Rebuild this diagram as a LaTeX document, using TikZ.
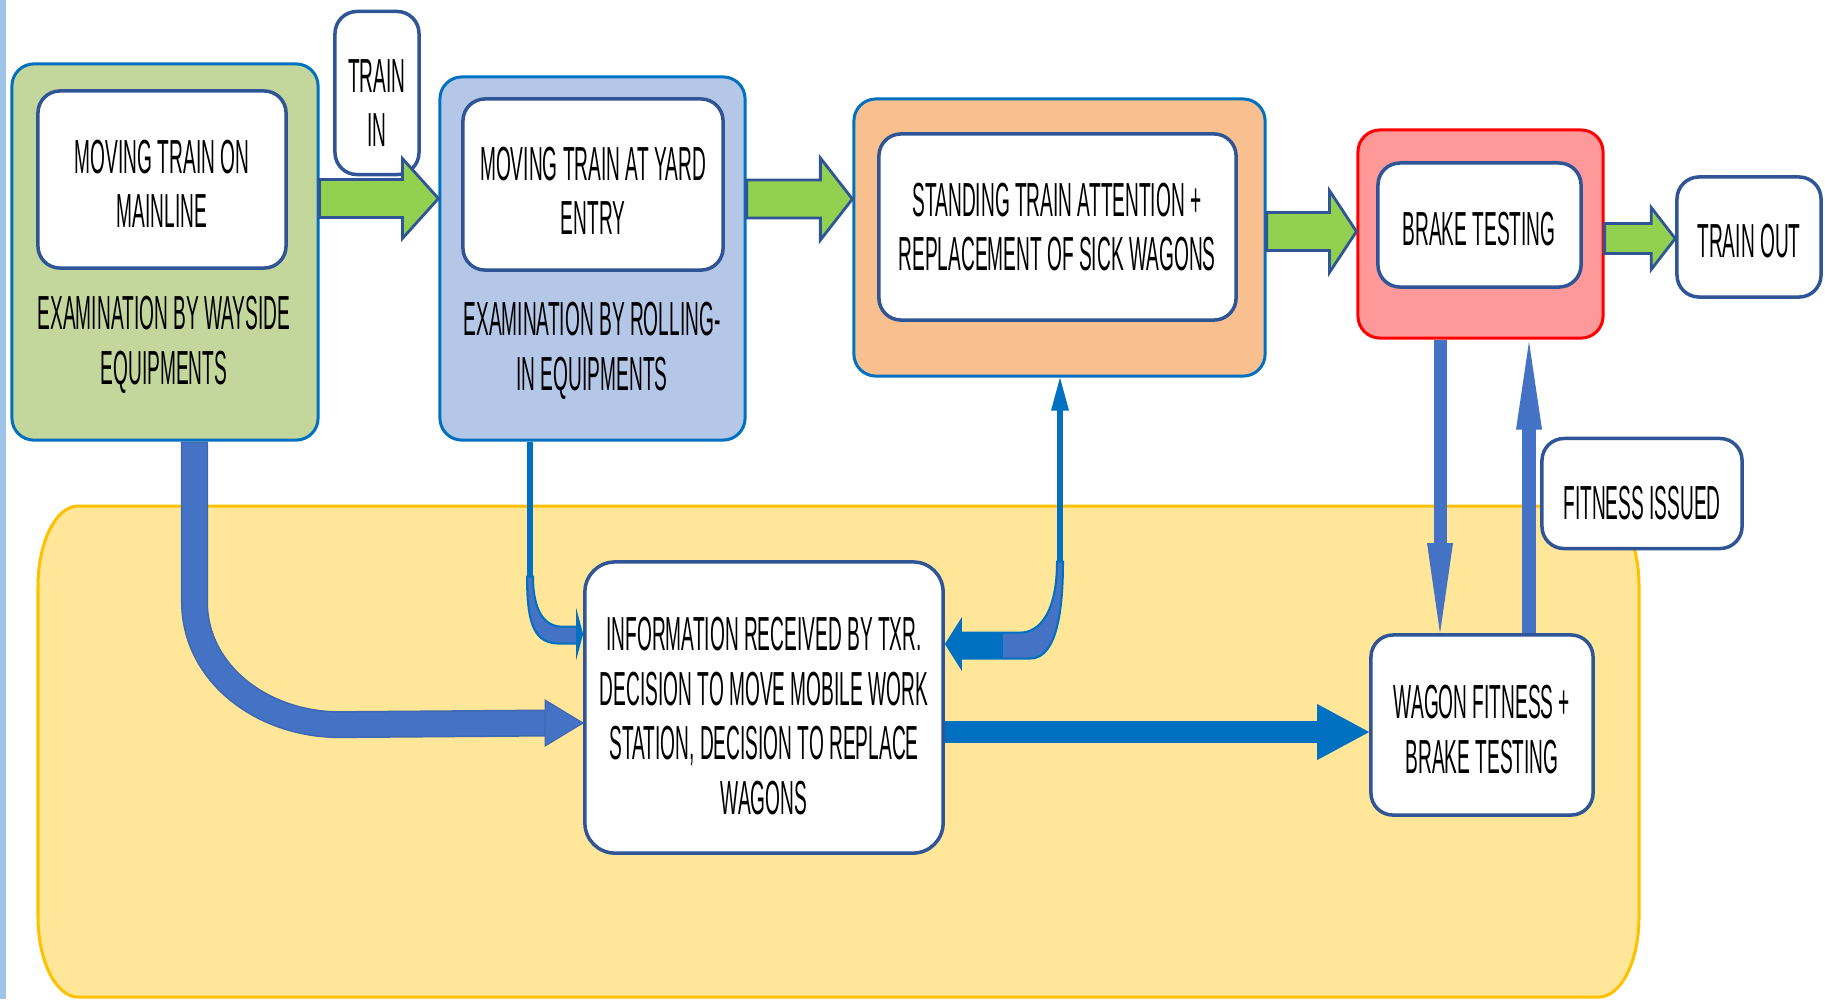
\documentclass[tikz,border=0pt]{standalone}
\usepackage{fontspec}
\newfontfamily\narrowfont[FakeStretch=0.40]{Liberation Sans}
\usetikzlibrary{calc}
\definecolor{gfill}{HTML}{C3D69B}
\definecolor{bfill}{HTML}{B4C7E7}
\definecolor{ofill}{HTML}{F8C08F}
\definecolor{rfill}{HTML}{FF9999}
\definecolor{yfill}{HTML}{FFE699}
\definecolor{yline}{HTML}{FFC000}
\definecolor{agreen}{HTML}{92D050}
\definecolor{dblue}{HTML}{2F5597}
\definecolor{mblue}{HTML}{0070C0}
\definecolor{ablue}{HTML}{4472C4}
\definecolor{stripc}{HTML}{9DC3E6}
\newcommand\hblock[6]{\filldraw[#1] ($(#2)+(0,-#4)$) -- ($(#3)+(-#6,-#4)$) -- ($(#3)+(-#6,-#5)$) -- (#3) -- ($(#3)+(-#6,#5)$) -- ($(#3)+(-#6,#4)$) -- ($(#2)+(0,#4)$) -- cycle;}
\begin{document}
\begin{tikzpicture}[x=0.01cm,y=-0.01cm,
  outerbox/.style={draw=mblue, line width=0.03cm, rounded corners=0.22cm, inner sep=0pt},
  whitebox/.style={draw=dblue, fill=white, line width=0.035cm, rounded corners=0.22cm, inner sep=0pt},
  txt/.style={font=\narrowfont\fontsize{13.6}{15.5}\selectfont, align=center, inner sep=0pt, text=black},
  garrow/.style={fill=agreen, draw=dblue, line width=0.028cm, line join=miter},
  ribbon/.style={fill=ablue, draw=mblue, line width=0.02cm},
]
\useasboundingbox (0,0) rectangle (1825,999);
\fill[stripc] (0,0) rectangle (6,999);
% big yellow area
\filldraw[fill=yfill, draw=yline, line width=0.03cm]
  (78,506) -- (1599,506) .. controls (1621,506) and (1639,542) .. (1639,586)
  -- (1639,917) .. controls (1639,961) and (1621,997) .. (1599,997)
  -- (78,997) .. controls (56,997) and (38,961) .. (38,917)
  -- (38,586) .. controls (38,542) and (56,506) .. (78,506) -- cycle;

% top row
\node[outerbox, fill=gfill, minimum width=3.06cm, minimum height=3.76cm] (green) at (165,252) {};
\node[whitebox, minimum width=2.48cm, minimum height=1.77cm] (white1) at (162,179.5) {};
\node[txt] (t1) at (162,184) {MOVING TRAIN ON\\MAINLINE};
\node[txt] (t1b) at (164,345) {EXAMINATION BY WAYSIDE\\EQUIPMENTS};

\node[whitebox, minimum width=0.84cm, minimum height=1.63cm] (trainin) at (377,93) {};
\node[txt] (t2) at (377,103) {TRAIN\\IN};

\node[outerbox, fill=bfill, minimum width=3.05cm, minimum height=3.63cm] (bluebox) at (592.5,258.5) {};
\node[whitebox, minimum width=2.60cm, minimum height=1.71cm] (white2) at (593,184.5) {};
\node[txt] (t3) at (593,191) {MOVING TRAIN AT YARD\\ENTRY};
\node[txt] (t3b) at (592,351) {EXAMINATION BY ROLLING-\\IN EQUIPMENTS};

\node[outerbox, fill=ofill, minimum width=4.11cm, minimum height=2.77cm] (orange) at (1059.5,237.5) {};
\node[whitebox, minimum width=3.57cm, minimum height=1.86cm] (white3) at (1057.5,227) {};
\node[txt] (t4) at (1057,227) {STANDING TRAIN ATTENTION +\\REPLACEMENT OF SICK WAGONS};

\node[outerbox, draw=red, fill=rfill, minimum width=2.45cm, minimum height=2.08cm] (red) at (1480.5,234) {};
\node[whitebox, minimum width=2.03cm, minimum height=1.24cm] (white4) at (1479.5,225) {};
\node[txt] (t5) at (1479,229) {BRAKE TESTING};

\node[whitebox, minimum width=1.44cm, minimum height=1.20cm] (trainout) at (1749,237) {};
\node[txt] (t6) at (1749,241) {TRAIN OUT};

% lower boxes
\node[whitebox, rounded corners=0.3cm, minimum width=3.58cm, minimum height=2.91cm] (info) at (764,707.5) {};
\node[txt] (t7) at (764,716) {INFORMATION RECEIVED BY TXR.\\DECISION TO MOVE MOBILE WORK\\STATION, DECISION TO REPLACE\\WAGONS};

\node[whitebox, minimum width=2.22cm, minimum height=1.80cm] (wagon) at (1482,725) {};
\node[txt] (t8) at (1482,729.5) {WAGON FITNESS +\\BRAKE TESTING};

\node[whitebox, minimum width=2.00cm, minimum height=1.10cm] (fitness) at (1642,493.5) {};
\node[txt] (t9) at (1642,503) {FITNESS ISSUED};

% green block arrows
\coordinate (ya1) at (0,198.5);
\coordinate (ya2) at (0,199);
\coordinate (ya3) at (0,231.5);
\coordinate (ya4) at (0,238.5);
\hblock{garrow}{green.east |- ya1}{bluebox.west |- ya1}{19}{40}{36}
\hblock{garrow}{bluebox.east |- ya2}{orange.west |- ya2}{19}{41}{32}
\hblock{garrow}{orange.east |- ya3}{red.west |- ya3}{19}{41}{27}
\hblock{garrow}{red.east |- ya4}{trainout.west |- ya4}{15}{31}{24}

% thick curved arrow from wayside box
\coordinate (b1s) at ($(green.south)+(29.5,0)$);
\coordinate (yb1) at (0,723);
\coordinate (b1t) at (info.west |- yb1);
\draw[ablue!90!black, line width=0.27cm] (b1s) -- ($(b1s)+(0,160)$)
  .. controls ($(b1s)+(0,232)$) and ($(b1s)+(68,283)$) .. ($(b1s)+(145,283)$)
  -- ($(b1t)+(-36,0)$);
\draw[ablue, line width=0.24cm] ($(b1s)+(0,1)$) -- ($(b1s)+(0,160)$)
  .. controls ($(b1s)+(0,232)$) and ($(b1s)+(68,283)$) .. ($(b1s)+(145,283)$)
  -- ($(b1t)+(-36,0)$);
\filldraw[fill=ablue, draw=ablue!90!black, line width=0.01cm] ($(b1t)+(-38,-23)$) -- (b1t) -- ($(b1t)+(-38,23)$) -- cycle;

% thin curved arrow from rolling-in box
\coordinate (b2s) at ($(bluebox.south)+(-62.5,0)$);
\coordinate (yb2) at (0,634);
\coordinate (b2t) at (info.west |- yb2);
\draw[mblue, line width=0.06cm] (b2s) -- ($(b2s)+(0,137)$);
\begin{scope}[shift={(b2s)}]
\filldraw[ribbon] (-3,135) .. controls (-3,185) and (5,202) .. (30,202) -- (48,202)
  -- (48,185) -- (32,185) .. controls (15,185) and (3,170) .. (3,135) -- cycle;
\end{scope}
\fill[mblue] ($(b2t)+(-7,-26)$) -- (b2t) -- ($(b2t)+(-7,26)$) -- cycle;

% two-way arrow between info box and standing-train box
\coordinate (b3s) at ($(orange.south)+(0.5,0)$);
\coordinate (yb3) at (0,644);
\coordinate (b3t) at (info.east |- yb3);
\fill[mblue] (b3s) -- ($(b3s)+(-9,33)$) -- ($(b3s)+(9,33)$) -- cycle;
\draw[mblue, line width=0.06cm] ($(b3s)+(0,30)$) -- ($(b3s)+(0,186)$);
\begin{scope}[shift={(b3s)}]
\filldraw[ribbon] (3,184) .. controls (3,249) and (-8,281) .. (-30,281) -- (-100,281)
  -- (-100,255) -- (-40,255) .. controls (-20,255) and (-3,234) .. (-3,184) -- cycle;
\fill[mblue] (-100,255) rectangle (-57,281);
\end{scope}
\fill[mblue] ($(b3t)+(17,-27)$) -- (b3t) -- ($(b3t)+(17,27)$) -- cycle;

% info -> wagon fitness
\coordinate (yb4) at (0,732);
\coordinate (b4s) at (info.east |- yb4);
\coordinate (b4t) at (wagon.west |- yb4);
\draw[mblue, line width=0.22cm] (b4s) -- ($(b4t)+(-50,0)$);
\fill[mblue] ($(b4t)+(-52,-28)$) -- (b4t) -- ($(b4t)+(-52,28)$) -- cycle;

% brake testing <-> wagon fitness
\coordinate (xb5) at (1440,0);
\coordinate (b5s) at (xb5 |- red.south);
\coordinate (b5t) at (xb5 |- wagon.north);
\draw[ablue, line width=0.13cm] (b5s) -- ($(b5t)+(0,-88)$);
\fill[ablue] ($(b5t)+(-13,-90)$) -- (b5t) -- ($(b5t)+(13,-90)$) -- cycle;

\coordinate (xb6) at (1529,0);
\coordinate (b6s) at (xb6 |- wagon.north);
\coordinate (b6t) at ($(xb6 |- red.south)+(0,2)$);
\draw[ablue, line width=0.14cm] (b6s) -- ($(b6t)+(0,86)$);
\fill[ablue] ($(b6t)+(-13,88)$) -- (b6t) -- ($(b6t)+(13,88)$) -- cycle;
\end{tikzpicture}
\end{document}
